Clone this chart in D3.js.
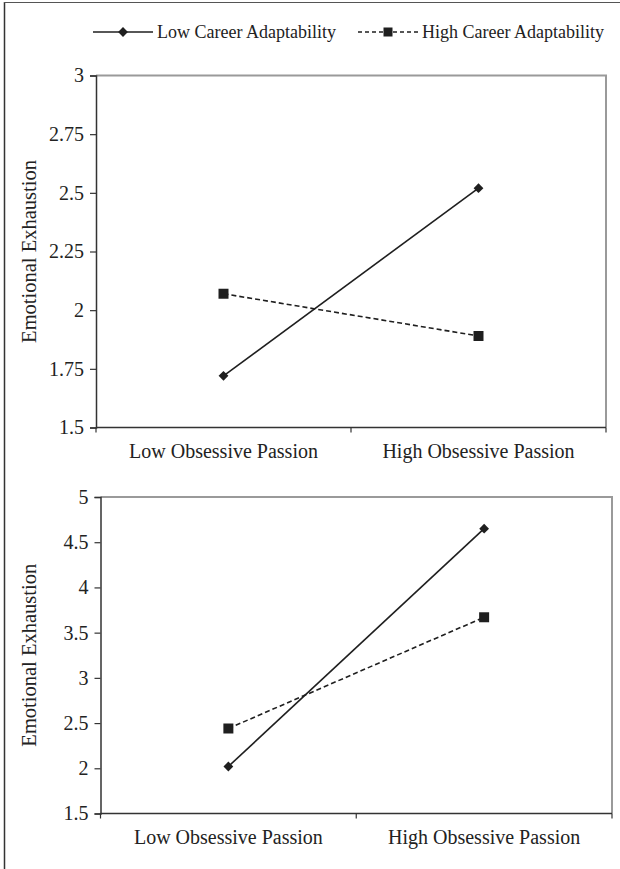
<!DOCTYPE html>
<html>
<head>
<meta charset="utf-8">
<title>Emotional Exhaustion</title>
<script src="https://d3js.org/d3.v7.min.js"></script>
<style>
body { margin: 0; background: #fff; }
svg text { font-family: "Liberation Serif", "Times New Roman", serif; fill: #222; }
</style>
</head>
<body>
<script>
// data
var categories = ["Low Obsessive Passion", "High Obsessive Passion"];
var seriesNames = ["Low Career Adaptability", "High Career Adaptability"];
var topLow = [1.72, 2.52];
var topHigh = [2.07, 1.89];
var topTicks = [1.5, 1.75, 2, 2.25, 2.5, 2.75, 3];
var bottomLow = [2.02, 4.65];
var bottomHigh = [2.44, 3.67];
var bottomTicks = [1.5, 2, 2.5, 3, 3.5, 4, 4.5, 5];

var width = 620, height = 869;
var ink = "#1f1f1f";

var svg = d3.select("body").append("svg")
  .attr("width", width)
  .attr("height", height);

// outer frame (left + top edges)
svg.append("line").attr("x1", 4.5).attr("x2", 4.5).attr("y1", 2).attr("y2", height)
  .attr("stroke", "#333").attr("stroke-width", 1.5);
svg.append("line").attr("x1", 4).attr("x2", width).attr("y1", 2.5).attr("y2", 2.5)
  .attr("stroke", "#555").attr("stroke-width", 1.2);

var diamond = d3.symbol().type(d3.symbolSquare).size(48);
var square = d3.symbol().type(d3.symbolSquare).size(100);

// legend
var leg = svg.append("g");
leg.append("line").attr("x1", 93).attr("x2", 153).attr("y1", 32).attr("y2", 32)
  .attr("stroke", ink).attr("stroke-width", 1.5);
leg.append("path").attr("d", diamond).attr("fill", ink)
  .attr("transform", "translate(123,32) rotate(45)");
leg.append("text").attr("x", 157).attr("y", 38).attr("font-size", 18).text(seriesNames[0]);
leg.append("line").attr("x1", 358).attr("x2", 418).attr("y1", 32).attr("y2", 32)
  .attr("stroke", ink).attr("stroke-width", 1.5).attr("stroke-dasharray", "4,3");
leg.append("path").attr("d", d3.symbol().type(d3.symbolSquare).size(81)).attr("fill", ink)
  .attr("transform", "translate(388,32)");
leg.append("text").attr("x", 422).attr("y", 38).attr("font-size", 18).text(seriesNames[1]);

function panel(box, ticks, lowVals, highVals) {
  var g = svg.append("g");
  var x = d3.scaleBand().domain(categories).range([box.left, box.right]);
  var y = d3.scaleLinear().domain([ticks[0], ticks[ticks.length - 1]]).range([box.bottom, box.top]);

  // grey top and right edges of the plot
  g.append("path")
    .attr("d", "M" + box.left + "," + box.top + "H" + box.right + "V" + box.bottom)
    .attr("fill", "none").attr("stroke", "#9a9a9a").attr("stroke-width", 2);

  var yAxis = g.append("g")
    .attr("transform", "translate(" + box.left + ",0)")
    .call(d3.axisLeft(y).tickValues(ticks).tickFormat(function(d) { return String(d); })
      .tickSize(6).tickPadding(6));
  yAxis.select(".domain").attr("stroke", "#333").attr("stroke-width", 1.5);
  yAxis.selectAll(".tick line").attr("stroke", "#333").attr("stroke-width", 1.2);
  yAxis.selectAll("text").attr("font-size", 20).attr("font-family", "Liberation Serif").attr("fill", "#222");

  var xAxis = g.append("g")
    .attr("transform", "translate(0," + box.bottom + ")")
    .call(d3.axisBottom(x).tickSize(0).tickPadding(16));
  xAxis.select(".domain").attr("stroke", "#333").attr("stroke-width", 1.5)
    .attr("d", "M" + box.left + ",0H" + box.right);
  xAxis.selectAll("text").attr("font-size", 20).attr("font-family", "Liberation Serif").attr("fill", "#222");
  // category dividers below the axis
  g.selectAll(".div").data([box.left, (box.left + box.right) / 2, box.right]).enter()
    .append("line")
    .attr("x1", function(d) { return d; }).attr("x2", function(d) { return d; })
    .attr("y1", box.bottom).attr("y2", box.bottom + 5)
    .attr("stroke", "#333").attr("stroke-width", 1.2);

  g.append("text")
    .attr("transform", "translate(" + box.titleX + "," + (box.top + box.bottom) / 2 + ") rotate(-90)")
    .attr("text-anchor", "middle").attr("font-size", 20.5)
    .text("Emotional Exhaustion");

  var cx = function(d, i) { return x(categories[i]) + x.bandwidth() / 2; };
  var line = d3.line().x(cx).y(function(d) { return y(d); });

  g.append("path").datum(lowVals).attr("d", line)
    .attr("fill", "none").attr("stroke", ink).attr("stroke-width", 1.6);
  g.append("path").datum(highVals).attr("d", line)
    .attr("fill", "none").attr("stroke", ink).attr("stroke-width", 1.6).attr("stroke-dasharray", "5,3");

  g.selectAll(".dia").data(lowVals).enter().append("path")
    .attr("d", diamond).attr("fill", ink)
    .attr("transform", function(d, i) { return "translate(" + cx(d, i) + "," + y(d) + ") rotate(45)"; });
  g.selectAll(".sq").data(highVals).enter().append("path")
    .attr("d", square).attr("fill", ink)
    .attr("transform", function(d, i) { return "translate(" + cx(d, i) + "," + y(d) + ")"; });
}

panel({ left: 96, right: 606, top: 75.5, bottom: 427.5, titleX: 36 }, topTicks, topLow, topHigh);
panel({ left: 100.5, right: 612, top: 497, bottom: 813.5, titleX: 36 }, bottomTicks, bottomLow, bottomHigh);
</script>
</body>
</html>
